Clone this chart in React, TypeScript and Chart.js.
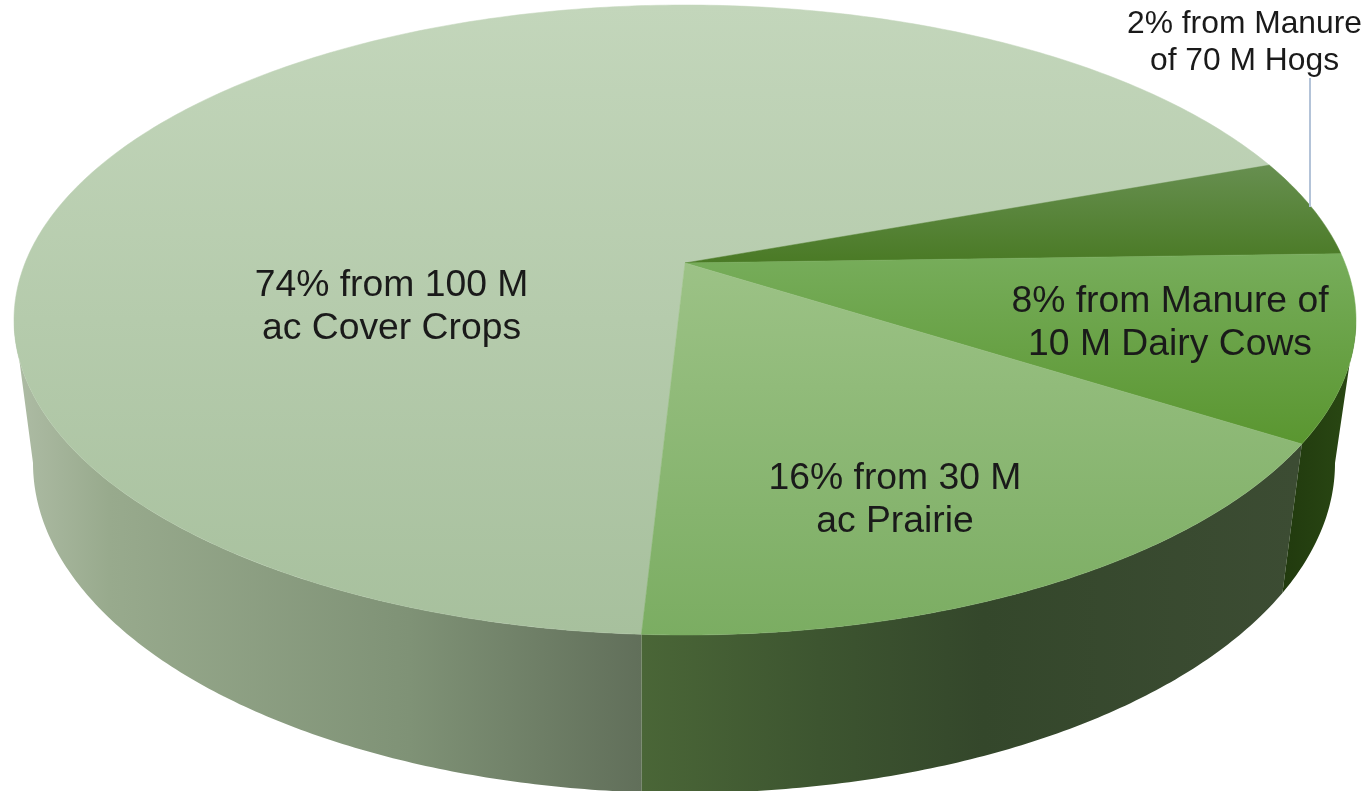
import React, { useEffect, useRef } from "react";
import { Chart, registerables } from "chart.js";

Chart.register(...registerables);

// Slices clockwise, starting from the front edge of the pie.
const categories = ["Cover Crops", "Hog Manure", "Dairy Cow Manure", "Prairie"];
// Wedge sizes as drawn in the picture (the printed labels state 74, 2, 8 and 16 %).
const drawnShares = [68.6, 5.05, 9.5, 16.85];
const startDegrees = 183.1;

const labelLines = [
  ["74% from 100 M", "ac Cover Crops"],
  ["2% from Manure", "of 70 M Hogs"],
  ["8% from Manure of", "10 M Dairy Cows"],
  ["16% from 30 M", "ac Prairie"],
];

const topColors = [
  ["#c3d6bb", "#a7c09d"],
  ["#678f50", "#4a7a25"],
  ["#77ad5b", "#5a9630"],
  ["#9cc286", "#7bad62"],
];
const wallColors: [number, string][][] = [
  [[0.01, "#aebca5"], [0.08, "#98aa8d"], [0.3, "#7f9276"], [0.47, "#616f5a"]],
  [],
  [[0.94, "#213a0e"], [1, "#2b4a14"]],
  [[0.47, "#4a6637"], [0.6, "#3d5530"], [0.72, "#34472b"], [0.95, "#3c4c33"]],
];
const wallOrder = [0, 3, 2];

const TOP = { x: 685, y: 320, rx: 671, ry: 315 };
const BOTTOM = { x: 684, y: 463, rx: 651, ry: 330 };
const APEX_SHIFT = -0.181;
const LABELS = [
  { x: 391.5, y: 296, size: 37.3, gap: 43 },
  { x: 1244.5, y: 33, size: 31.8, gap: 37 },
  { x: 1170, y: 312, size: 37.3, gap: 43 },
  { x: 895, y: 489, size: 37.3, gap: 43 },
];

// Perspective: a disc-preserving projective map that sends the pie centre to the apex.
const a = APEX_SHIFT / (1 + Math.sqrt(1 - APEX_SHIFT * APEX_SHIFT));
function perspectiveAngle(theta: number): number {
  const c = Math.cos(theta);
  const s = Math.sin(theta);
  const numRe = c;
  const numIm = s + a;
  const denRe = 1 + a * s;
  const denIm = -a * c;
  return Math.atan2(numIm, numRe) - Math.atan2(denIm, denRe);
}
const onEllipse = (e: typeof TOP, phi: number): [number, number] => [
  e.x + e.rx * Math.cos(phi),
  e.y + e.ry * Math.sin(phi),
];

const pie3d = {
  id: "pie3d",
  beforeDatasetsDraw(chart: any) {
    const ctx: CanvasRenderingContext2D = chart.ctx;
    const arcs = chart.getDatasetMeta(0).data;
    const w = chart.width;

    const phiRange = (arc: any): [number, number] => {
      const p0 = perspectiveAngle(arc.startAngle);
      let p1 = perspectiveAngle(arc.endAngle);
      while (p1 <= p0) p1 += Math.PI * 2;
      return [p0, p1];
    };

    // side walls
    wallOrder.forEach((i) => {
      const stops = wallColors[i];
      const [p0, p1] = phiRange(arcs[i]);
      const tau = Math.PI * 2;
      for (let k = -1; k <= 1; k++) {
        const lo = Math.max(p0, k * tau);
        const hi = Math.min(p1, k * tau + Math.PI);
        if (hi <= lo) continue;
        const n = Math.max(4, Math.ceil((hi - lo) * 90));
        ctx.beginPath();
        for (let j = 0; j <= n; j++) {
          const [x, y] = onEllipse(TOP, lo + ((hi - lo) * j) / n);
          if (j === 0) ctx.moveTo(x, y);
          else ctx.lineTo(x, y);
        }
        for (let j = n; j >= 0; j--) {
          const [x, y] = onEllipse(BOTTOM, lo + ((hi - lo) * j) / n);
          ctx.lineTo(x, y);
        }
        ctx.closePath();
        const g = ctx.createLinearGradient(0, 0, w, 0);
        stops.forEach(([o, col]) => g.addColorStop(o, col));
        ctx.fillStyle = g;
        ctx.fill();
      }
    });

    // top faces
    const apexX = TOP.x;
    const apexY = TOP.y + APEX_SHIFT * TOP.ry;
    arcs.forEach((arc: any, i: number) => {
      const [p0, p1] = phiRange(arc);
      const n = Math.max(4, Math.ceil((p1 - p0) * 90));
      const ys: number[] = [apexY];
      ctx.beginPath();
      ctx.moveTo(apexX, apexY);
      for (let j = 0; j <= n; j++) {
        const [x, y] = onEllipse(TOP, p0 + ((p1 - p0) * j) / n);
        ys.push(y);
        ctx.lineTo(x, y);
      }
      ctx.closePath();
      const g = ctx.createLinearGradient(0, Math.min(...ys), 0, Math.max(...ys));
      g.addColorStop(0, topColors[i][0]);
      g.addColorStop(1, topColors[i][1]);
      ctx.fillStyle = g;
      ctx.strokeStyle = g;
      ctx.lineWidth = 0.5;
      ctx.fill();
      ctx.stroke();
    });
    return false; // the 3-D faces replace the flat arcs
  },
  afterDraw(chart: any) {
    const ctx: CanvasRenderingContext2D = chart.ctx;
    ctx.save();
    ctx.strokeStyle = "#b3c3d8";
    ctx.lineWidth = 2;
    ctx.beginPath();
    ctx.moveTo(1310, 78);
    ctx.lineTo(1310, 207);
    ctx.stroke();
    ctx.fillStyle = "#1a1a1a";
    ctx.textAlign = "center";
    ctx.textBaseline = "alphabetic";
    labelLines.forEach((lines, i) => {
      const pos = LABELS[i];
      ctx.font = `${pos.size}px "Liberation Sans", Arial, sans-serif`;
      lines.forEach((line, j) => {
        ctx.fillText(line, pos.x, pos.y + j * pos.gap);
      });
    });
    ctx.restore();
  },
};

export default function App() {
  const ref = useRef<HTMLCanvasElement>(null);
  useEffect(() => {
    if (!ref.current) return;
    const chart = new Chart(ref.current, {
      type: "pie",
      data: {
        labels: categories,
        datasets: [{ data: drawnShares, backgroundColor: topColors.map((c) => c[0]), borderWidth: 0 }],
      },
      options: {
        animation: false,
        responsive: false,
        rotation: startDegrees,
        plugins: { legend: { display: false }, tooltip: { enabled: false } },
      },
      plugins: [pie3d],
    } as any);
    return () => chart.destroy();
  }, []);
  return (
    <div style={{ position: "absolute", left: 0, top: 0, width: 1365, height: 791, background: "#fff", overflow: "hidden" }}>
      <canvas ref={ref} width={1365} height={791} style={{ display: "block", width: 1365, height: 791 }} />
    </div>
  );
}
